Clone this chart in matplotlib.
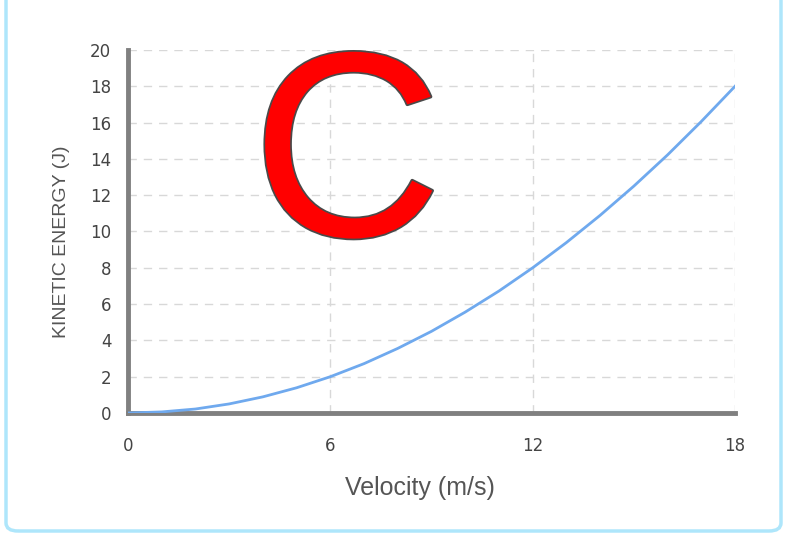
import matplotlib.pyplot as plt
import matplotlib.patheffects as pe
from matplotlib.patches import FancyBboxPatch

# values
velocity = [0, 1, 2, 3, 4, 5, 6, 7, 8, 9, 10, 11, 12, 13, 14, 15, 16, 17, 18]
energy = [0, 0.06, 0.22, 0.5, 0.89, 1.39, 2, 2.72, 3.56, 4.5, 5.56, 6.72,
          8, 9.39, 10.89, 12.5, 14.22, 16.06, 18]
x_ticks = [0, 6, 12, 18]
y_ticks = [0, 2, 4, 6, 8, 10, 12, 14, 16, 18, 20]

fig = plt.figure(figsize=(8.01, 5.40), dpi=100)

# light blue rounded frame
frame = FancyBboxPatch((6 / 801, 9 / 540), 775 / 801, 560 / 540,
                       boxstyle="round,pad=0,rounding_size=0.015",
                       transform=fig.transFigure, fill=False,
                       edgecolor="#aee6fb", linewidth=2.5, clip_on=False)
fig.patches.append(frame)

ax = fig.add_axes([128 / 801, 127 / 540, 607 / 801, 363 / 540])
ax.plot(velocity, energy, color="#6fa9ee", linewidth=2, zorder=3)

ax.set_xlim(0, 18)
ax.set_ylim(0, 20)
ax.set_xticks(x_ticks)
ax.set_yticks(y_ticks)
ax.grid(True, color="#d8d8d8", linestyle=(0, (6, 5)), linewidth=1)
ax.set_axisbelow(True)

for side in ["top", "right"]:
    ax.spines[side].set_visible(False)
for side in ["left", "bottom"]:
    ax.spines[side].set_color("#808080")
    ax.spines[side].set_linewidth(3.5)

ax.tick_params(axis="both", length=0, labelsize=12, labelcolor="#444444")
ax.tick_params(axis="x", pad=17)
ax.tick_params(axis="y", pad=12)
for lab in ax.get_xticklabels() + ax.get_yticklabels():
    lab.set_family("DejaVu Sans")

fig.text(420 / 801, 1 - 488 / 540, "Velocity (m/s)", ha="center", va="center",
         fontsize=18, color="#555555", family="Liberation Sans")
fig.text(62 / 801, 1 - 242 / 540, "KINETIC ENERGY (J)", ha="center", va="center",
         rotation=90, fontsize=14, color="#555555", family="Liberation Sans")

# big red letter
fig.text(347 / 801, 1 - 168 / 540, "C", ha="center", va="center",
         fontsize=190, color="red", family="Liberation Sans",
         path_effects=[pe.Stroke(linewidth=2.5, foreground="#4a4a4a"), pe.Normal()])

fig.savefig("out.png", dpi=100)
